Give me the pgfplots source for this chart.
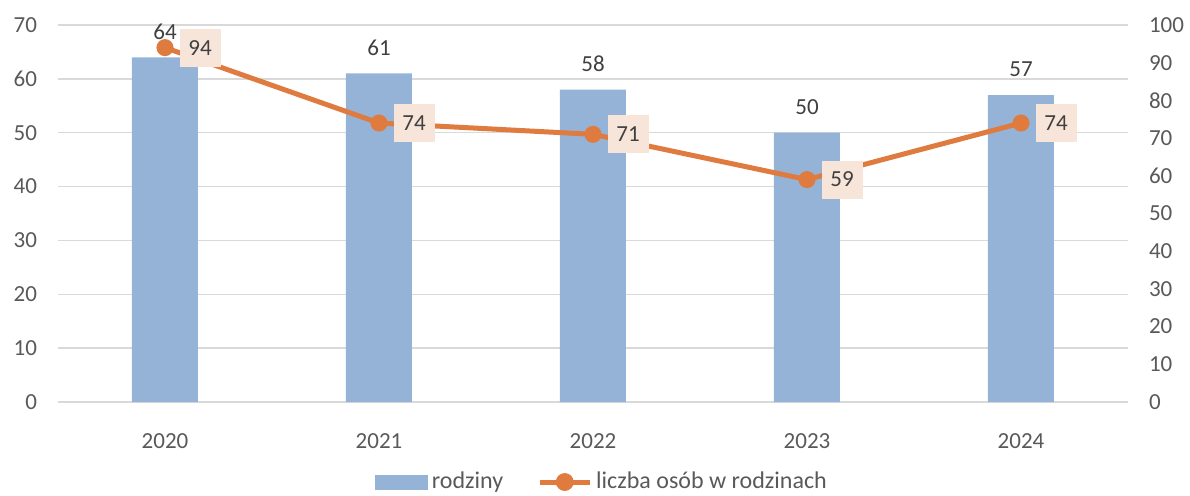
\documentclass[border=0pt]{standalone}
\usepackage{fontspec}
\setmainfont{Carlito}
\usepackage{pgfplots}
\pgfplotsset{compat=1.18}
\definecolor{barblue}{HTML}{95B3D7}
\definecolor{lineorange}{HTML}{E07B3F}
\definecolor{boxfill}{HTML}{F8E5D9}
\definecolor{gridgray}{HTML}{D9D9D9}
\definecolor{ticktext}{HTML}{595959}
\definecolor{labeltext}{HTML}{404040}

\begin{document}
\begin{tikzpicture}[font=\fontsize{11.5}{13}\selectfont]
\pgfplotsset{common/.style={scale only axis, width=535pt, height=188.5pt,
  xmin=-0.5, xmax=4.5, ymin=0, clip=false,
  tick style={draw=none}, axis line style={draw=none},
  ticklabel style={color=ticktext, font=\fontsize{11.5}{13}\selectfont},
  /pgf/number format/assume math mode=true}}

\begin{axis}[common, ymax=70, ytick={0,10,...,70},
  xtick={0,...,4}, xticklabels={2020,2021,2022,2023,2024},
  xticklabel style={yshift=-8pt}, yticklabel style={xshift=-7pt},
  ymajorgrids, grid style={gridgray, line width=0.75pt},
  ybar, bar width=33pt,
  nodes near coords, every node near coord/.append style={color=labeltext, yshift=5.5pt}]
\addplot[fill=barblue, draw=none] coordinates {(0,64) (1,61) (2,58) (3,50) (4,57)};
\end{axis}

\begin{axis}[common, ymax=100, ytick={0,10,...,100}, axis y line*=right,
  hide x axis, yticklabel style={xshift=7pt},
  legend style={at={(0.5,0)}, anchor=center, xshift=5pt, yshift=-40pt, draw=none, fill=none,
    legend columns=2, font=\fontsize{12}{14}\selectfont, text=ticktext,
    /tikz/every even column/.append style={column sep=15pt},
    nodes={inner sep=2pt}}]
\addlegendimage{legend image code/.code={\fill[barblue] (0pt,-3.5pt) rectangle (26pt,3.5pt);}}
\addlegendentry{rodziny}
\addplot[lineorange, line width=2.5pt, mark=*, mark size=3pt,
  legend image code/.code={\draw[lineorange, line width=2.5pt] (0pt,0pt) -- (25pt,0pt);
    \fill[lineorange] (12.5pt,0pt) circle (3.2pt);},
  nodes near coords, nodes near coords align={center},
  every node near coord/.style={anchor=center, xshift=17.5pt, fill=boxfill,
    minimum width=20.5pt, minimum height=19pt, inner sep=0pt, text=labeltext,
    font=\fontsize{11.5}{13}\selectfont}]
  coordinates {(0,94) (1,74) (2,71) (3,59) (4,74)};
\addlegendentry{liczba osób w rodzinach}
\end{axis}
\pgfresetboundingbox
\path[use as bounding box] (-29pt,-46.5pt) rectangle (566pt,201pt);
\end{tikzpicture}
\end{document}
